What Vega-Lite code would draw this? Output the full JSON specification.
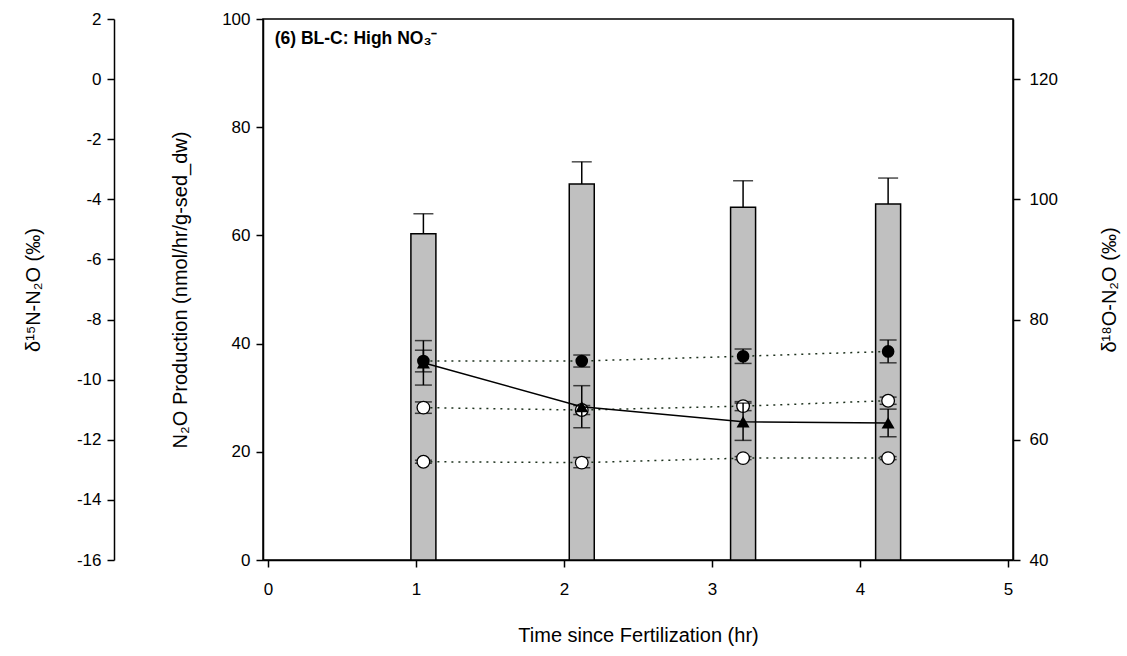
{
  "$schema": "https://vega.github.io/schema/vega-lite/v6.json",
  "width": 750,
  "height": 541,
  "autosize": "none",
  "padding": {"left": 263, "top": 19, "right": 114, "bottom": 96},
  "background": "white",
  "config": {
    "font": "Liberation Sans",
    "view": {"stroke": "black", "strokeWidth": 1.5},
    "axis": {
      "grid": false,
      "labelFont": "Liberation Sans",
      "labelFontSize": 17,
      "labelColor": "black",
      "titleFont": "Liberation Sans",
      "titleFontSize": 20,
      "titleFontWeight": "normal",
      "titleColor": "black",
      "domainColor": "black",
      "domainWidth": 1.5,
      "tickColor": "black",
      "tickWidth": 1.5,
      "tickSize": 7,
      "labelPadding": 6
    }
  },
  "data": {
    "values": [
      {"s": "N2O", "t": 1.05, "v": 60.3, "hi": 64.0},
      {"s": "N2O", "t": 2.12, "v": 69.5, "hi": 73.6},
      {"s": "N2O", "t": 3.21, "v": 65.2, "hi": 70.1},
      {"s": "N2O", "t": 4.19, "v": 65.8, "hi": 70.6},
      {"s": "d18O", "t": 1.05, "v": 73.1, "lo": 71.3, "hi": 74.9},
      {"s": "d18O", "t": 2.12, "v": 73.1, "lo": 72.1, "hi": 74.1},
      {"s": "d18O", "t": 3.21, "v": 73.9, "lo": 72.7, "hi": 75.1},
      {"s": "d18O", "t": 4.19, "v": 74.7, "lo": 72.8, "hi": 76.6},
      {"s": "tri", "t": 1.05, "v": 72.8, "lo": 69.1, "hi": 76.5},
      {"s": "tri", "t": 2.12, "v": 65.5, "lo": 62.0, "hi": 69.0},
      {"s": "tri", "t": 3.21, "v": 63.0, "lo": 59.9, "hi": 66.1},
      {"s": "tri", "t": 4.19, "v": 62.8, "lo": 60.5, "hi": 65.1},
      {"s": "mid", "t": 1.05, "v": -10.93, "lo": -11.12, "hi": -10.74},
      {"s": "mid", "t": 2.12, "v": -11.01, "lo": -11.16, "hi": -10.86},
      {"s": "mid", "t": 3.21, "v": -10.88, "lo": -11.03, "hi": -10.73},
      {"s": "mid", "t": 4.19, "v": -10.70, "lo": -10.82, "hi": -10.58},
      {"s": "d15N", "t": 1.05, "v": -12.73, "lo": -12.78, "hi": -12.68},
      {"s": "d15N", "t": 2.12, "v": -12.76, "lo": -12.93, "hi": -12.59},
      {"s": "d15N", "t": 3.21, "v": -12.61, "lo": -12.66, "hi": -12.56},
      {"s": "d15N", "t": 4.19, "v": -12.61, "lo": -12.66, "hi": -12.56},
      {"s": "label", "t": 0.045, "v": 95.3}
    ]
  },
  "encoding": {
    "x": {
      "field": "t",
      "type": "quantitative",
      "scale": {"domain": [0, 5], "nice": false, "zero": false},
      "axis": {"values": [0, 1, 2, 3, 4, 5], "title": "Time since Fertilization (hr)", "labelPadding": 14, "titlePadding": 28, "labelFontSize": 17}
    }
  },
  "layer": [
    {
      "layer": [
        {
          "transform": [{"filter": "datum.s === 'N2O'"}],
          "mark": {"type": "bar", "width": 25, "fill": "#c0c0c0", "stroke": "black", "strokeWidth": 1.5},
          "encoding": {
            "y": {
              "field": "v", "type": "quantitative",
              "scale": {"domain": [0, 100], "nice": false},
              "axis": {"values": [0, 20, 40, 60, 80, 100], "title": "N₂O Production (nmol/hr/g-sed_dw)", "titlePadding": 31, "labelFontSize": 17}
            }
          }
        },
        {
          "transform": [{"filter": "datum.s === 'N2O'"}],
          "mark": {"type": "rule", "color": "black", "strokeWidth": 1.5},
          "encoding": {
            "y": {"field": "v", "type": "quantitative", "scale": {"domain": [0, 100], "nice": false},
              "axis": {"values": [0, 20, 40, 60, 80, 100], "title": "N₂O Production (nmol/hr/g-sed_dw)", "titlePadding": 31, "labelFontSize": 17}},
            "y2": {"field": "hi"}
          }
        },
        {
          "transform": [{"filter": "datum.s === 'N2O'"}],
          "mark": {"type": "tick", "orient": "horizontal", "size": 20, "thickness": 1.5, "color": "black"},
          "encoding": {
            "y": {"field": "hi", "type": "quantitative", "scale": {"domain": [0, 100], "nice": false},
              "axis": {"values": [0, 20, 40, 60, 80, 100], "title": "N₂O Production (nmol/hr/g-sed_dw)", "titlePadding": 31, "labelFontSize": 17}}
          }
        },
        {
          "transform": [{"filter": "datum.s === 'label'"}],
          "mark": {"type": "text", "text": "(6) BL-C: High NO₃⁻", "align": "left", "baseline": "alphabetic", "fontSize": 17.5, "fontWeight": "bold", "font": "Liberation Sans", "color": "black"},
          "encoding": {
            "y": {"field": "v", "type": "quantitative", "scale": {"domain": [0, 100], "nice": false},
              "axis": {"values": [0, 20, 40, 60, 80, 100], "title": "N₂O Production (nmol/hr/g-sed_dw)", "titlePadding": 31, "labelFontSize": 17}}
          }
        }
      ]
    },
    {
      "layer": [
        {
          "transform": [{"filter": "datum.s === 'mid' || datum.s === 'd15N'"}],
          "mark": {"type": "line", "color": "#1e321e", "strokeWidth": 1.5, "strokeDash": [2, 5]},
          "encoding": {
            "y": {
              "field": "v", "type": "quantitative",
              "scale": {"domain": [-16, 2], "nice": false, "zero": false},
              "axis": {"orient": "left", "offset": 149, "values": [-16, -14, -12, -10, -8, -6, -4, -2, 0, 2], "labelExpr": "replace(datum.label, '−', '-')", "title": "δ¹⁵N-N₂O (‰)", "titlePadding": 33, "labelFontSize": 17}
            },
            "detail": {"field": "s"}
          }
        },
        {
          "transform": [{"filter": "datum.s === 'mid' || datum.s === 'd15N'"}],
          "mark": {"type": "rule", "color": "black", "strokeWidth": 1.5},
          "encoding": {
            "y": {"field": "lo", "type": "quantitative", "scale": {"domain": [-16, 2], "nice": false, "zero": false},
              "axis": {"orient": "left", "offset": 149, "values": [-16, -14, -12, -10, -8, -6, -4, -2, 0, 2], "labelExpr": "replace(datum.label, '−', '-')", "title": "δ¹⁵N-N₂O (‰)", "titlePadding": 33, "labelFontSize": 17}},
            "y2": {"field": "hi"}
          }
        },
        {
          "transform": [{"filter": "datum.s === 'mid' || datum.s === 'd15N'"}],
          "mark": {"type": "tick", "orient": "horizontal", "size": 17, "thickness": 1.5, "color": "black"},
          "encoding": {"y": {"field": "lo", "type": "quantitative", "scale": {"domain": [-16, 2], "nice": false, "zero": false},
              "axis": {"orient": "left", "offset": 149, "values": [-16, -14, -12, -10, -8, -6, -4, -2, 0, 2], "labelExpr": "replace(datum.label, '−', '-')", "title": "δ¹⁵N-N₂O (‰)", "titlePadding": 33, "labelFontSize": 17}}}
        },
        {
          "transform": [{"filter": "datum.s === 'mid' || datum.s === 'd15N'"}],
          "mark": {"type": "tick", "orient": "horizontal", "size": 17, "thickness": 1.5, "color": "black"},
          "encoding": {"y": {"field": "hi", "type": "quantitative", "scale": {"domain": [-16, 2], "nice": false, "zero": false},
              "axis": {"orient": "left", "offset": 149, "values": [-16, -14, -12, -10, -8, -6, -4, -2, 0, 2], "labelExpr": "replace(datum.label, '−', '-')", "title": "δ¹⁵N-N₂O (‰)", "titlePadding": 33, "labelFontSize": 17}}}
        },
        {
          "transform": [{"filter": "datum.s === 'mid' || datum.s === 'd15N'"}],
          "mark": {"type": "point", "shape": "circle", "size": 160, "filled": true, "fill": "white", "stroke": "black", "strokeWidth": 1.3, "opacity": 1},
          "encoding": {"y": {"field": "v", "type": "quantitative", "scale": {"domain": [-16, 2], "nice": false, "zero": false},
              "axis": {"orient": "left", "offset": 149, "values": [-16, -14, -12, -10, -8, -6, -4, -2, 0, 2], "labelExpr": "replace(datum.label, '−', '-')", "title": "δ¹⁵N-N₂O (‰)", "titlePadding": 33, "labelFontSize": 17}}}
        }
      ]
    },
    {
      "layer": [
        {
          "transform": [{"filter": "datum.s === 'd18O'"}],
          "mark": {"type": "line", "color": "#1e321e", "strokeWidth": 1.5, "strokeDash": [2, 5]},
          "encoding": {
            "y": {
              "field": "v", "type": "quantitative",
              "scale": {"domain": [40, 130], "nice": false, "zero": false},
              "axis": {"orient": "right", "values": [40, 60, 80, 100, 120], "title": "δ¹⁸O-N₂O (‰)", "titleAngle": 270, "titleBaseline": "bottom", "titlePadding": 62, "labelPadding": 9, "labelFontSize": 17}
            }
          }
        },
        {
          "transform": [{"filter": "datum.s === 'tri'"}],
          "mark": {"type": "line", "color": "black", "strokeWidth": 1.5},
          "encoding": {"y": {"field": "v", "type": "quantitative", "scale": {"domain": [40, 130], "nice": false, "zero": false},
              "axis": {"orient": "right", "values": [40, 60, 80, 100, 120], "title": "δ¹⁸O-N₂O (‰)", "titleAngle": 270, "titleBaseline": "bottom", "titlePadding": 62, "labelPadding": 9, "labelFontSize": 17}}}
        },
        {
          "transform": [{"filter": "datum.s === 'd18O' || datum.s === 'tri'"}],
          "mark": {"type": "rule", "color": "black", "strokeWidth": 1.5},
          "encoding": {
            "y": {"field": "lo", "type": "quantitative", "scale": {"domain": [40, 130], "nice": false, "zero": false},
              "axis": {"orient": "right", "values": [40, 60, 80, 100, 120], "title": "δ¹⁸O-N₂O (‰)", "titleAngle": 270, "titleBaseline": "bottom", "titlePadding": 62, "labelPadding": 9, "labelFontSize": 17}},
            "y2": {"field": "hi"}
          }
        },
        {
          "transform": [{"filter": "datum.s === 'd18O' || datum.s === 'tri'"}],
          "mark": {"type": "tick", "orient": "horizontal", "size": 17, "thickness": 1.5, "color": "black"},
          "encoding": {"y": {"field": "lo", "type": "quantitative", "scale": {"domain": [40, 130], "nice": false, "zero": false},
              "axis": {"orient": "right", "values": [40, 60, 80, 100, 120], "title": "δ¹⁸O-N₂O (‰)", "titleAngle": 270, "titleBaseline": "bottom", "titlePadding": 62, "labelPadding": 9, "labelFontSize": 17}}}
        },
        {
          "transform": [{"filter": "datum.s === 'd18O' || datum.s === 'tri'"}],
          "mark": {"type": "tick", "orient": "horizontal", "size": 17, "thickness": 1.5, "color": "black"},
          "encoding": {"y": {"field": "hi", "type": "quantitative", "scale": {"domain": [40, 130], "nice": false, "zero": false},
              "axis": {"orient": "right", "values": [40, 60, 80, 100, 120], "title": "δ¹⁸O-N₂O (‰)", "titleAngle": 270, "titleBaseline": "bottom", "titlePadding": 62, "labelPadding": 9, "labelFontSize": 17}}}
        },
        {
          "transform": [{"filter": "datum.s === 'tri'"}],
          "mark": {"type": "point", "shape": "triangle-up", "size": 170, "filled": true, "color": "black", "opacity": 1},
          "encoding": {"y": {"field": "v", "type": "quantitative", "scale": {"domain": [40, 130], "nice": false, "zero": false},
              "axis": {"orient": "right", "values": [40, 60, 80, 100, 120], "title": "δ¹⁸O-N₂O (‰)", "titleAngle": 270, "titleBaseline": "bottom", "titlePadding": 62, "labelPadding": 9, "labelFontSize": 17}}}
        },
        {
          "transform": [{"filter": "datum.s === 'd18O'"}],
          "mark": {"type": "point", "shape": "circle", "size": 160, "filled": true, "color": "black", "opacity": 1},
          "encoding": {"y": {"field": "v", "type": "quantitative", "scale": {"domain": [40, 130], "nice": false, "zero": false},
              "axis": {"orient": "right", "values": [40, 60, 80, 100, 120], "title": "δ¹⁸O-N₂O (‰)", "titleAngle": 270, "titleBaseline": "bottom", "titlePadding": 62, "labelPadding": 9, "labelFontSize": 17}}}
        }
      ]
    }
  ],
  "resolve": {"scale": {"y": "independent"}}
}
